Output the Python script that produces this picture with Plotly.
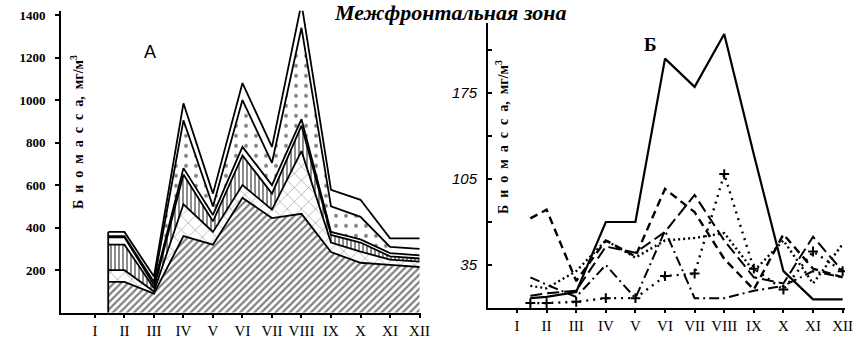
import plotly.graph_objects as go

# ---------------- data ----------------
months = [1, 2, 3, 4, 5, 6, 7, 8, 9, 10, 11, 12]
month_labels = ["I", "II", "III", "IV", "V", "VI", "VII", "VIII", "IX", "X", "XI", "XII"]

# sampling positions (first observation mid-way between I and II)
x_obs = [1.45, 2, 3, 4, 5, 6, 7, 8, 9, 10, 11, 12]

# Panel A: cumulative biomass (mg/m3), bottom group to top group
a_group1 = [145, 145, 90, 360, 320, 540, 445, 465, 285, 235, 225, 215]
a_group2 = [200, 200, 100, 510, 380, 600, 485, 760, 330, 287, 250, 240]
a_group3 = [320, 320, 115, 650, 430, 740, 560, 880, 366, 330, 265, 255]
a_group4 = [355, 355, 130, 680, 460, 780, 600, 910, 380, 345, 280, 270]
a_group5 = [360, 360, 145, 905, 500, 1000, 705, 1340, 500, 451, 310, 300]
a_group6 = [380, 380, 170, 985, 560, 1080, 780, 1455, 578, 531, 350, 350]

# Panel B: biomass of individual groups (mg/m3)
b_solid = [8, 9, 13, 70, 70, 203, 180, 223, 125, 30, 7, 7]
b_dash = [73, 80, 22, 55, 42, 97, 78, 40, 15, 60, 32, 25]
b_longdash = [10, 12, 14, 50, 45, 62, 92, 55, 25, 20, 58, 30]
b_dashdot = [25, 19, 9, 35, 8, 63, 8, 8, 14, 18, 30, 25]
b_dot = [18, 16, 30, 55, 41, 55, 57, 61, 30, 55, 20, 52]
b_cross = [4, 4, 5, 8, 8, 26, 28, 109, 32, 15, 46, 30]

a_yticks = [200, 400, 600, 800, 1000, 1200, 1400]
b_yticks = [35, 105, 175]
b_minor_step = 35

# ---------------- figure ----------------
fig = go.Figure()

a_layers = [
    (a_group1, "/", 5, 0.45),
    (a_group2, "x", 10, 0.1),
    (a_group3, "|", 4, 0.45),
    (a_group4, "", 6, 0.0),
    (a_group5, ".", 10, 0.12),
    (a_group6, "", 6, 0.0),
]
for i, (vals, shape, size, sol) in enumerate(a_layers):
    fig.add_trace(go.Scatter(
        x=x_obs, y=vals, mode="lines",
        line=dict(color="black", width=1.8),
        fill="tozeroy" if i == 0 else "tonexty",
        fillcolor="white",
        fillpattern=dict(shape=shape, fgcolor="black", bgcolor="white",
                         size=size, solidity=sol) if shape else None,
        xaxis="x", yaxis="y", showlegend=False,
    ))
# vertical start edge of the stacked areas
fig.add_trace(go.Scatter(x=[x_obs[0], x_obs[0]], y=[0, a_group6[0]], mode="lines",
                         line=dict(color="black", width=1.8), showlegend=False,
                         xaxis="x", yaxis="y"))

b_series = [
    (b_solid, "solid", 2.2, None),
    (b_dash, "8px,5px", 2.4, None),
    (b_longdash, "12px,5px", 2.0, None),
    (b_dashdot, "10px,4px,2px,4px", 2.0, None),
    (b_dot, "2px,3px", 2.4, None),
    (b_cross, "2px,5px", 2.4, "cross-thin"),
]
for vals, dash, w, sym in b_series:
    fig.add_trace(go.Scatter(
        x=x_obs, y=vals,
        mode="lines+markers" if sym else "lines",
        line=dict(color="black", width=w, dash=dash),
        marker=dict(symbol=sym, size=7, line=dict(color="black", width=2)) if sym else None,
        xaxis="x2", yaxis="y2", showlegend=False,
    ))

serif = "Liberation Serif"
xaxis_common = dict(
    tickmode="array", tickvals=months, ticktext=month_labels,
    showline=True, linecolor="black", linewidth=2, ticks="outside", ticklen=3,
    tickwidth=1.5, tickcolor="black", showgrid=False, zeroline=False,
    automargin=False,
    tickfont=dict(family=serif, size=15, color="black"),
)
ytitle = "<b>Б\u2002и\u2002о\u2002м\u2002а\u2002с\u2002с\u2002а,\u2002мг/м<sup>3</sup></b>"
fig.update_layout(
    width=861, height=342,
    margin=dict(l=0, r=0, t=0, b=0, autoexpand=False),
    paper_bgcolor="white", plot_bgcolor="white",
    xaxis=dict(domain=[61 / 861, 421 / 861], range=[-0.15, 12.05], **xaxis_common),
    yaxis=dict(domain=[29.3 / 342, 331.2 / 342], range=[0, 1420], anchor="x",
               tickmode="array", tickvals=a_yticks, automargin=False,
               showline=True, linecolor="black", linewidth=2, ticks="outside",
               ticklen=4, tickwidth=1.5, tickcolor="black", showgrid=False,
               zeroline=False, ticklabelstandoff=7,
               tickfont=dict(family=serif, size=13, color="black", weight="bold")),
    xaxis2=dict(domain=[488 / 861, 845 / 861], range=[0.02, 12.08], anchor="y2",
                **xaxis_common),
    yaxis2=dict(domain=[34 / 342, 319 / 342], range=[0, 232], anchor="x2",
                tickmode="array", tickvals=b_yticks, automargin=False,
                showline=True, linecolor="black", linewidth=2, ticks="inside",
                ticklen=4, tickwidth=1.5, tickcolor="black", showgrid=False,
                zeroline=False, ticklabelstandoff=6,
                minor=dict(ticks="inside", tick0=0, dtick=b_minor_step, ticklen=4,
                           tickwidth=1.5, tickcolor="black", showgrid=False),
                tickfont=dict(family="Liberation Sans", size=15, color="black",
                              style="italic")),
    annotations=[
        dict(text="<b><i>Межфронтальная зона</i></b>", x=450 / 861, y=(342 - 13) / 342,
             xref="paper", yref="paper", showarrow=False, xanchor="center",
             yanchor="middle", font=dict(family=serif, size=22, color="black")),
        dict(text="А", x=150 / 861, y=(342 - 52) / 342, xref="paper", yref="paper",
             xanchor="center", yanchor="middle",
             showarrow=False, font=dict(family="Liberation Sans", size=18, color="black")),
        dict(text="<b>Б</b>", x=650 / 861, y=(342 - 45) / 342, xref="paper", yref="paper",
             xanchor="center", yanchor="middle",
             showarrow=False, font=dict(family=serif, size=19, color="black")),
        dict(text=ytitle, x=77 / 861, y=(342 - 132) / 342, xref="paper", yref="paper",
             xanchor="center", yanchor="middle",
             showarrow=False, textangle=-90,
             font=dict(family=serif, size=14, color="black")),
        dict(text=ytitle, x=502 / 861, y=(342 - 137) / 342, xref="paper", yref="paper",
             xanchor="center", yanchor="middle",
             showarrow=False, textangle=-90,
             font=dict(family=serif, size=14, color="black")),
    ],
)

fig.write_html(
    "out.html",
    config={"displayModeBar": False},
    post_script="document.body.style.margin='0';document.body.style.overflow='hidden';",
)
